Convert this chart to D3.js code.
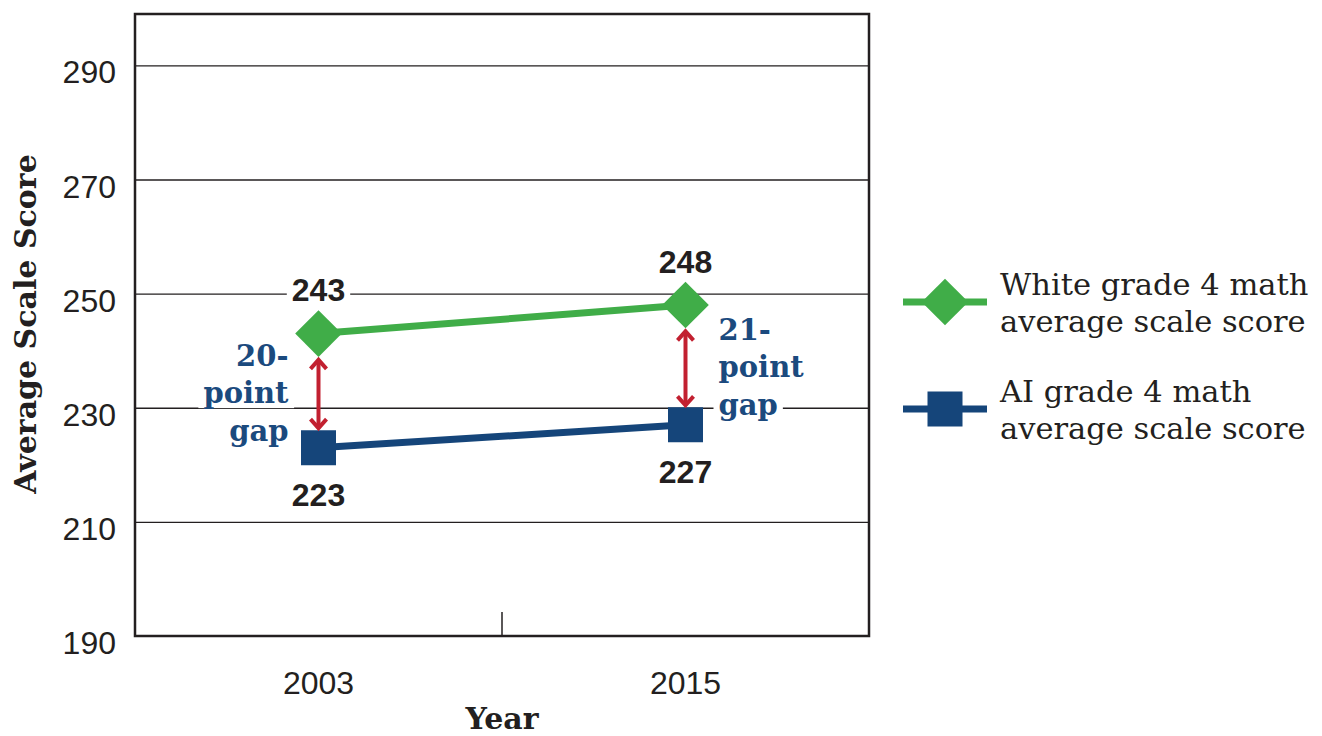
<!DOCTYPE html>
<html>
<head>
<meta charset="utf-8">
<script src="https://cdn.jsdelivr.net/npm/d3@7/dist/d3.min.js"></script>
<style>
  html, body { margin: 0; padding: 0; background: #fff; }
  svg { display: block; }
</style>
</head>
<body>
<svg id="chart" width="1322" height="736"></svg>
<script>
// Grade 4 math average scale scores, White vs. AI students
const years = ["2003", "2015"];
const whiteScores = [243, 248];
const aiScores = [223, 227];
const yTicks = [190, 210, 230, 250, 270, 290];
const yDomain = [190, 299];
const gapLabels = [["20-", "point", "gap"], ["21-", "point", "gap"]];
const legendLabels = [
  ["White grade 4 math", "average scale score"],
  ["AI grade 4 math", "average scale score"]
];

const GREEN = "#40ad48";
const BLUE = "#15457a";
const TEXT_BLUE = "#1b4a7e";
const RED = "#c22030";
const INK = "#231f20";
const SANS = "'Liberation Sans', Arial, sans-serif";
const SERIF = "'DejaVu Serif', serif";

const plot = { left: 135, right: 869, top: 14, bottom: 636 };

const svg = d3.select("#chart");

const x = d3.scaleBand().domain(years).range([plot.left, plot.right]);
const y = d3.scaleLinear().domain(yDomain).range([plot.bottom, plot.top]);
const cx = d => x(d) + x.bandwidth() / 2;

// Horizontal gridlines
svg.append("g")
  .attr("transform", `translate(${plot.left},0)`)
  .call(d3.axisLeft(y).tickValues(yTicks.slice(1)).tickSize(-(plot.right - plot.left)).tickFormat(""))
  .call(g => g.select(".domain").remove())
  .call(g => g.selectAll("line").attr("stroke", INK).attr("stroke-width", 1.3));

// Y tick labels
svg.append("g")
  .attr("transform", `translate(${plot.left},0)`)
  .call(d3.axisLeft(y).tickValues(yTicks).tickSize(0).tickPadding(19))
  .call(g => g.select(".domain").remove())
  .call(g => g.selectAll("text")
    .attr("dy", "0.55em")
    .attr("fill", INK)
    .style("font-family", SANS)
    .style("font-size", "32px"));

// X tick labels
svg.append("g")
  .attr("transform", `translate(0,${plot.bottom})`)
  .call(d3.axisBottom(x).tickSize(0).tickPadding(35))
  .call(g => g.select(".domain").remove())
  .call(g => g.selectAll("text")
    .attr("fill", INK)
    .style("font-family", SANS)
    .style("font-size", "32px"));

// Frame
svg.append("rect")
  .attr("x", plot.left).attr("y", plot.top)
  .attr("width", plot.right - plot.left).attr("height", plot.bottom - plot.top)
  .attr("fill", "none").attr("stroke", INK).attr("stroke-width", 2.5);

// Separator tick between the two year bands
svg.append("line")
  .attr("x1", x(years[1])).attr("x2", x(years[1]))
  .attr("y1", plot.bottom - 24).attr("y2", plot.bottom)
  .attr("stroke", INK).attr("stroke-width", 1.5);

// Axis titles
svg.append("text")
  .attr("transform", `translate(36,324) rotate(-90)`)
  .attr("text-anchor", "middle")
  .attr("fill", INK)
  .style("font-family", SERIF).style("font-weight", "bold").style("font-size", "30px")
  .text("Average Scale Score");

svg.append("text")
  .attr("x", (plot.left + plot.right) / 2).attr("y", 729)
  .attr("text-anchor", "middle")
  .attr("fill", INK)
  .style("font-family", SERIF).style("font-weight", "bold").style("font-size", "30px")
  .text("Year");

// Series lines
const line = d3.line().x(d => cx(d.year)).y(d => y(d.value));
const whiteData = years.map((yr, i) => ({ year: yr, value: whiteScores[i] }));
const aiData = years.map((yr, i) => ({ year: yr, value: aiScores[i] }));

svg.append("path").datum(whiteData)
  .attr("d", line).attr("fill", "none").attr("stroke", GREEN).attr("stroke-width", 7);
svg.append("path").datum(aiData)
  .attr("d", line).attr("fill", "none").attr("stroke", BLUE).attr("stroke-width", 7);

// Markers
const diamond = d3.symbol().type(d3.symbolSquare).size(33 * 33);
const square = d3.symbol().type(d3.symbolSquare).size(35 * 35);
const DIAMOND_HALF = 23.3;
const SQUARE_HALF = 17.5;

svg.selectAll(".white-mark").data(whiteData).join("path")
  .attr("class", "white-mark")
  .attr("d", diamond)
  .attr("transform", d => `translate(${cx(d.year)},${y(d.value)}) rotate(45)`)
  .attr("fill", GREEN);

svg.selectAll(".ai-mark").data(aiData).join("path")
  .attr("class", "ai-mark")
  .attr("d", square)
  .attr("transform", d => `translate(${cx(d.year)},${y(d.value)})`)
  .attr("fill", BLUE);

// Double-headed gap arrows
years.forEach((yr, i) => {
  const x0 = cx(yr);
  const top = y(whiteScores[i]) + DIAMOND_HALF + 2;
  const bot = y(aiScores[i]) - SQUARE_HALF - 1;
  const g = svg.append("g").attr("stroke", RED).attr("stroke-width", 4).attr("fill", "none");
  g.append("line").attr("x1", x0).attr("x2", x0).attr("y1", top + 1).attr("y2", bot - 1);
  g.append("path").attr("d", `M${x0 - 8},${top + 10}L${x0},${top + 1}L${x0 + 8},${top + 10}`);
  g.append("path").attr("d", `M${x0 - 8},${bot - 10}L${x0},${bot - 1}L${x0 + 8},${bot - 10}`);
});

// Text with a white backing box that interrupts the gridlines
function boxedText(parent, attrs, text, style, pad) {
  const g = parent.append("g");
  const bg = g.append("rect").attr("fill", "#fff");
  const t = g.append("text").text(text);
  Object.entries(attrs).forEach(([k, v]) => t.attr(k, v));
  Object.entries(style).forEach(([k, v]) => t.style(k, v));
  const b = t.node().getBBox();
  bg.attr("x", b.x - pad).attr("y", b.y + 2).attr("width", b.width + 2 * pad).attr("height", b.height - 4);
  return g;
}

const valueStyle = { "font-family": SANS, "font-weight": "bold", "font-size": "32px" };

// Value labels
whiteData.forEach(d => {
  boxedText(svg, { x: cx(d.year), y: y(d.value) - DIAMOND_HALF - 9, "text-anchor": "middle", fill: INK },
    d.value, valueStyle, 5);
});
aiData.forEach(d => {
  boxedText(svg, { x: cx(d.year), y: y(d.value) + 58, "text-anchor": "middle", fill: INK },
    d.value, valueStyle, 5);
});

// Gap labels
const gapStyle = { "font-family": SERIF, "font-weight": "bold", "font-size": "29px" };
years.forEach((yr, i) => {
  const mid = (y(whiteScores[i]) + y(aiScores[i])) / 2;
  const left = i === 0;
  const xPos = left ? cx(yr) - 30 : cx(yr) + 33;
  gapLabels[i].forEach((s, j) => {
    boxedText(svg, { x: xPos, y: mid - 25 + 37.5 * j, "text-anchor": left ? "end" : "start", fill: TEXT_BLUE },
      s, gapStyle, 5);
  });
});

// Legend
const legend = svg.append("g");
const legendItems = [
  { color: GREEN, symbol: diamond, rotate: 45, cy: 302 },
  { color: BLUE, symbol: square, rotate: 0, cy: 409 }
];
legendItems.forEach((it, i) => {
  legend.append("line")
    .attr("x1", 903).attr("x2", 987).attr("y1", it.cy).attr("y2", it.cy)
    .attr("stroke", it.color).attr("stroke-width", 7);
  legend.append("path")
    .attr("d", it.symbol)
    .attr("transform", `translate(945,${it.cy}) rotate(${it.rotate})`)
    .attr("fill", it.color);
  legend.append("text")
    .attr("x", 1000).attr("y", it.cy - 7)
    .attr("fill", INK)
    .style("font-family", SERIF).style("font-size", "30.5px")
    .selectAll("tspan").data(legendLabels[i]).join("tspan")
    .attr("x", 1000).attr("dy", (d, j) => j === 0 ? 0 : 37)
    .text(d => d);
});
</script>
</body>
</html>
